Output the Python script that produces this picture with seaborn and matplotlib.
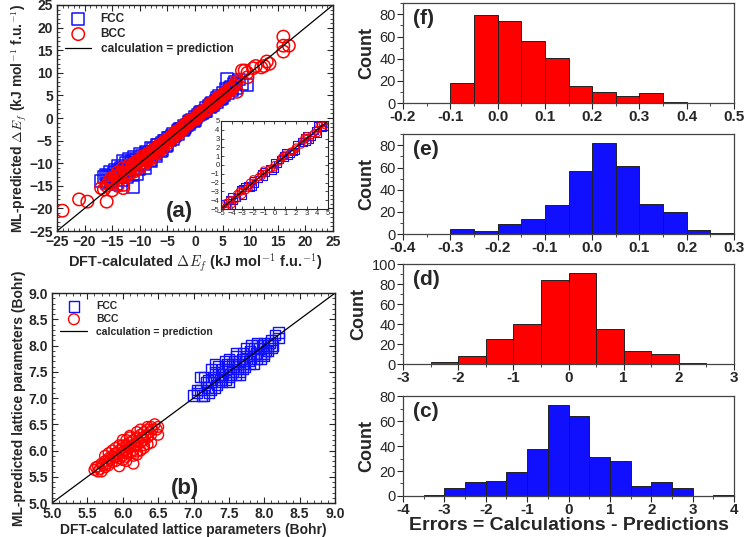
import matplotlib
matplotlib.use("Agg")
import matplotlib.pyplot as plt
import seaborn as sns
import numpy as np
from matplotlib.ticker import MultipleLocator, FormatStrFormatter

# ---- datos panel (a): energia de formacion (DFT vs ML) ----
fcc_a_dft = [-17, -16.5, -16, -16.2, -15.5, -15, -14.5, -14, -14, -13.5, -13, -13, -12.5, -12, -12,
             -11.5, -11, -11, -11.2, -10.5, -10, -10, -9.5, -9, -9, -8.5, -8, -8, -7.5, -7, -7,
             -6.5, -6, -6, -5.5, -5, -5, -4.5, -4, -4, -3.5, -3, -3, -2.5, -2, -2, -1.5, -1, -1,
             -0.5, 0, 0, 0.5, 1, 1, 1.5, 2, 2, 2.5, 3, 3, 3.5, 4, 4, 4.5, 5, 5, 5.5, 5.8, 6,
             6.5, 7, 7.5, 8, 9.4, 8.5, -15, -13.5, -4.8, -3.8, -2.8, -1.8, -0.8, 0.3, 1.3, 2.7, 3.8, 4.7,
             -15.8, -15.2, -14.7, -14.2, -13.7, -13.2, -12.7, -12.2, -11.7, -11.2, -10.7, -10.2, -9.7,
             -9.2, -8.7, -8.2, -7.7, -7.2, -6.7, -6.2, -5.7, -5.2, -4.2, -3.2, -2.2, -1.2, -0.2, 0.8,
             1.8, 2.8, 3.3, 4.3, 5.3, 6.3, 6.8, 7.3]
fcc_a_ml = [-14, -13, -14.5, -12.5, -12, -13, -11.5, -12.5, -10.5, -11, -9.5, -12, -10, -9, -11.5,
            -9.5, -8.5, -10.5, -15.3, -12.5, -8, -10, -9, -7.5, -11, -8, -6.5, -9.5, -7.5, -6, -8.5,
            -6.5, -5.5, -7.2, -5, -4.3, -6, -4.8, -3.5, -4.6, -3.7, -2.6, -3.5, -2.3, -1.7, -2.5, -1.6, -0.7, -1.3,
            -0.4, 0.3, -0.4, 0.6, 0.8, 1.4, 1.3, 2.3, 1.6, 2.7, 3.4, 2.6, 3.2, 4.5, 3.5, 4.2, 5.6, 4.4, 6.5, 8.6, 5.5,
            6.8, 7.5, 6.5, 8.5, 7.3, 7.5, -14, -13, -4.4, -4.1, -2.4, -2.1, -0.9, 0.1, 1.0, 2.5, 3.9, 4.3,
            -12.8, -14.2, -12.1, -14.6, -11.5, -13.8, -11.0, -13.0, -10.0, -12.4, -9.2, -11.4, -8.3,
            -10.3, -7.6, -9.3, -6.9, -8.1, -6.0, -7.4, -5.0, -6.3, -3.9, -2.8, -2.6, -0.9, -0.6, 1.1,
            1.5, 3.2, 2.9, 4.8, 5.0, 6.7, 6.1, 7.9]

bcc_a_dft = [-24, -21, -19.5, -16, -17, -16.5, -16, -15, -15.5, -14, -13, -13, -14.5, -14, -13.5, -13,
             -12.5, -12, -12, -11.5, -11, -11, -10.5, -10, -10, -9.5, -9, -9, -8.5, -8, -8, -7.5, -7,
             -7, -6.5, -6, -6, -5.5, -5, -5, -4.5, -4, -4, -3.5, -3, -3, -2.5, -2, -2, -1.5, -1, -1,
             -0.5, 0, 0, 0.5, 1, 1, 1.5, 2, 2, 2.5, 3, 3, 3.5, 4, 4, 4.5, 5, 5.5, 6, 6.5, 7, 7.6,
             7.5, 8.5, 9, 9.5, 9.5, 10.5, 11, 12, 12.5, 13, 13.5, 16, 16, 16, 17,
             -4.6, -4.2, -3.6, -3.2, -2.7, -2.3, -1.2, 0.7, 1.7, 2.8, 3.2, 4.2,
             -15.7, -15.2, -14.8, -14.3, -13.8, -13.3, -12.8, -12.3, -11.8, -11.3, -10.8, -10.3, -9.8,
             -9.3, -8.8, -8.3, -7.8, -7.3, -6.8, -6.3, -5.8, -5.3, -4.3, -3.3, -2.3, -1.3, -0.3, 0.7,
             1.7, 2.7, 3.7, 4.7, 5.2, 5.7, 6.2, 6.7, 7.2]
bcc_a_ml = [-20.5, -18, -18.5, -18.5, -15.5, -15.8, -15, -16, -14, -15, -15.5, -14.8, -13, -12, -12.5, -11,
            -12, -10.5, -12.5, -11, -10, -11.8, -9.5, -9.5, -11, -8.5, -9, -10, -7.8, -8, -9, -7, -7,
            -7.8, -6, -6, -6.8, -5.4, -5, -5.6, -4.3, -4, -4.5, -3.3, -3, -3.4, -2.6, -2, -1.6, -1.4, -1, -0.6,
            -0.5, 0, -0.3, 0.4, 1, 1.2, 1.5, 2, 1.8, 2.3, 3, 3.3, 3.4, 4, 3.6, 4.7, 5, 5.3, 6, 6.2, 7, 5.8,
            8, 10.5, 10.5, 10, 9, 11, 11.5, 11.2, 11.5, 12.5, 12, 18, 16, 14.7, 16,
            -4.9, -4.0, -3.9, -2.9, -2.9, -2.0, -1.3, 0.9, 1.5, 3.1, 2.8, 4.5,
            -14.5, -13.3, -14.2, -12.8, -13.6, -12.0, -12.8, -11.2, -12.2, -10.6, -11.3, -9.8, -10.5,
            -8.8, -9.5, -8.0, -8.6, -6.8, -7.5, -6.0, -6.4, -5.0, -4.5, -3.1, -2.5, -1.1, -0.4, 0.8,
            1.6, 2.8, 3.6, 4.5, 5.4, 5.5, 6.4, 6.5, 7.3]

# ---- datos panel (b): parametros de red (Bohr) ----
fcc_b_dft = [7.0, 7.05, 7.1, 7.15, 7.2, 7.2, 7.25, 7.3, 7.3, 7.35, 7.4, 7.4, 7.45, 7.5, 7.5, 7.5, 7.55,
             7.6, 7.6, 7.6, 7.65, 7.7, 7.7, 7.7, 7.75, 7.8, 7.8, 7.8, 7.85, 7.9, 7.9, 7.95, 8.0, 8.0, 8.0,
             8.05, 8.1, 8.1, 8.15, 8.2, 8.2, 8.0, 7.35, 7.45, 7.55, 7.65, 7.25, 7.15, 7.4, 7.85, 7.1,
             7.05, 7.12, 7.18, 7.22, 7.28, 7.33, 7.38, 7.42, 7.48, 7.52, 7.58, 7.62, 7.68, 7.72, 7.78,
             7.82, 7.88, 7.92, 7.98, 8.02, 8.08, 8.12, 7.3, 7.45, 7.6, 7.75, 7.9, 8.05,
             7.25, 7.5, 7.65, 7.85, 7.95]
fcc_b_ml = [7.05, 7.1, 7.15, 7.4, 7.2, 7.35, 7.3, 7.5, 7.2, 7.45, 7.55, 7.3, 7.6, 7.75, 7.4, 7.55, 7.5,
            7.8, 7.6, 7.45, 7.7, 7.85, 7.55, 7.65, 7.8, 7.9, 7.65, 7.75, 7.95, 8.0, 7.75, 7.85, 8.05, 7.85, 7.95,
            8.0, 8.1, 7.95, 8.2, 8.25, 8.15, 7.8, 7.6, 7.35, 7.65, 7.5, 7.15, 7.05, 7.4, 7.8, 7.4,
            7.15, 7.05, 7.3, 7.1, 7.4, 7.25, 7.35, 7.45, 7.65, 7.45, 7.7, 7.55, 7.75, 7.6, 7.7,
            8.0, 7.85, 7.95, 8.0, 7.9, 8.05, 8.0, 7.65, 7.7, 7.85, 7.95, 8.05, 7.9,
            7.55, 7.3, 7.45, 7.65, 7.75]

bcc_b_dft = [5.6, 5.65, 5.7, 5.7, 5.75, 5.75, 5.8, 5.8, 5.85, 5.85, 5.9, 5.9, 5.95, 5.95, 6.0, 6.0, 6.0,
             6.05, 6.05, 6.1, 6.1, 6.1, 6.15, 6.15, 6.2, 6.2, 6.2, 6.25, 6.25, 6.3, 6.3, 6.3, 6.35, 6.35,
             6.4, 6.4, 6.45, 6.5, 6.5, 6.15, 5.95, 6.05, 5.65, 6.25, 6.4, 5.85, 6.0, 6.1,
             5.62, 5.68, 5.72, 5.78, 5.82, 5.88, 5.92, 5.98, 6.02, 6.08, 6.12, 6.18, 6.22, 6.28, 6.32,
             6.38, 6.42, 6.48, 5.75, 5.9, 6.05, 6.2, 6.35, 6.0, 6.15, 6.3,
             5.8, 5.95, 6.1, 6.25, 6.05, 6.2, 6.35]
bcc_b_ml = [5.63, 5.7, 5.6, 5.75, 5.8, 5.68, 5.85, 5.72, 5.9, 5.78, 5.95, 5.8, 6.0, 5.85, 6.05, 5.9, 6.1,
            6.1, 5.95, 6.15, 5.95, 6.05, 6.2, 6.0, 6.25, 6.1, 5.98, 6.3, 6.15, 6.35, 6.2, 6.05, 6.4, 6.25,
            6.45, 6.3, 6.5, 6.3, 6.45, 5.75, 5.7, 5.8, 5.6, 6.0, 6.15, 6.0, 6.2, 6.25,
            5.68, 5.65, 5.72, 5.75, 5.82, 5.88, 5.88, 5.95, 6.0, 6.05, 6.1, 6.08, 6.18, 6.25, 6.28,
            6.35, 6.4, 6.4, 5.9, 6.05, 6.2, 6.35, 6.45, 5.82, 5.9, 6.1,
            5.95, 6.1, 6.28, 6.4, 5.88, 5.92, 6.12]

# linea calculo = prediccion
diag_a = [-25, 25]
diag_b = [5.0, 9.0]

# ---- histogramas de errores (bordes izquierdos de bins y cuentas) ----
f_width = 0.05
f_left = [-0.1, -0.05, 0.0, 0.05, 0.1, 0.15, 0.2, 0.25, 0.3, 0.35]
f_counts = [18, 79, 74, 56, 41, 15, 10, 6, 9, 1]

e_width = 0.05
e_left = [-0.3, -0.25, -0.2, -0.15, -0.1, -0.05, 0.0, 0.05, 0.1, 0.15, 0.2, 0.25]
e_counts = [5, 3, 9, 14, 26, 57, 82, 61, 27, 20, 4, 1]

d_width = 0.5
d_left = [-2.5, -2.0, -1.5, -1.0, -0.5, 0.0, 0.5, 1.0, 1.5, 2.0]
d_counts = [2, 8, 25, 40, 84, 91, 35, 13, 10, 1]

c_width = 0.5
c_left = [-3.5, -3.0, -2.5, -2.0, -1.5, -1.0, -0.5, 0.0, 0.5, 1.0, 1.5, 2.0, 2.5, 3.0, 3.5]
c_counts = [1, 6, 11, 12, 19, 38, 73, 64, 31, 28, 8, 11, 6, 0, 1]

BLUE = "#1010ff"
RED = "#ff0000"

sns.set_style("ticks")
plt.rcParams["font.family"] = ["Liberation Sans", "DejaVu Sans"]
plt.rcParams["mathtext.fontset"] = "cm"
plt.rcParams["font.weight"] = "bold"

fig = plt.figure(figsize=(7.45, 5.37), dpi=100)


def style_scatter_axes(ax, major, minor, size):
    ax.xaxis.set_major_locator(MultipleLocator(major))
    ax.yaxis.set_major_locator(MultipleLocator(major))
    ax.xaxis.set_minor_locator(MultipleLocator(minor))
    ax.yaxis.set_minor_locator(MultipleLocator(minor))
    ax.tick_params(which="both", direction="in", top=True, right=True, labelsize=size, pad=3)
    ax.tick_params(which="major", length=4, width=0.8)
    ax.tick_params(which="minor", length=2, width=0.6)
    for lab in ax.get_xticklabels() + ax.get_yticklabels():
        lab.set_fontweight("bold")
    for sp in ax.spines.values():
        sp.set_linewidth(1.0)
        sp.set_color("#222222")


# ---- panel (a) ----
ax_a = fig.add_axes([0.0765, 0.5698, 0.3705, 0.4209])
sns.scatterplot(x=fcc_a_dft, y=fcc_a_ml, ax=ax_a, marker="s", s=70, facecolor="none",
                edgecolor=BLUE, linewidth=1.1, label="FCC")
sns.scatterplot(x=bcc_a_dft, y=bcc_a_ml, ax=ax_a, marker="o", s=80, facecolor="none",
                edgecolor=RED, linewidth=1.1, label="BCC")
sns.lineplot(x=diag_a, y=diag_a, ax=ax_a, color="black", linewidth=0.9,
             label="calculation = prediction")
ax_a.set_xlim(-25, 25)
ax_a.set_ylim(-25, 25)
style_scatter_axes(ax_a, 5, 1, 10)
ax_a.set_xlabel(r"DFT-calculated $\Delta E_f$ (kJ mol$^{-1}$ f.u.$^{-1}$)", fontsize=10.5,
                fontweight="bold", labelpad=2)
ax_a.set_ylabel(r"ML-predicted $\Delta E_f$ (kJ mol$^{-1}$ f.u.$^{-1}$)", fontsize=10,
                fontweight="bold", labelpad=0)
ax_a.legend(loc="upper left", frameon=False, handlelength=2.2,
            borderaxespad=0.3, labelspacing=0.25, prop={"weight": "bold", "size": 8.5})
ax_a.text(0.445, 0.085, "(a)", transform=ax_a.transAxes, fontsize=16, fontweight="bold",
          ha="center", va="center")

# inset de (a)
ax_in = fig.add_axes([0.2966, 0.6108, 0.1436, 0.1639])
sns.scatterplot(x=fcc_a_dft, y=fcc_a_ml, ax=ax_in, marker="s", s=22, facecolor="none",
                edgecolor=BLUE, linewidth=0.8, legend=False)
sns.scatterplot(x=bcc_a_dft, y=bcc_a_ml, ax=ax_in, marker="o", s=24, facecolor="none",
                edgecolor=RED, linewidth=0.8, legend=False)
sns.lineplot(x=diag_a, y=diag_a, ax=ax_in, color="black", linewidth=0.8)
ax_in.set_xlim(-5, 5)
ax_in.set_ylim(-5, 5)
ax_in.xaxis.set_major_locator(MultipleLocator(1))
ax_in.yaxis.set_major_locator(MultipleLocator(1))
ax_in.tick_params(which="both", direction="in", top=True, right=True, labelsize=5.5,
                  length=2.5, width=0.6, pad=1)
for lab in ax_in.get_xticklabels() + ax_in.get_yticklabels():
    lab.set_fontweight("normal")
ax_in.set_xlabel("")
ax_in.set_ylabel("")
for sp in ax_in.spines.values():
    sp.set_linewidth(0.8)

# ---- panel (b) ----
ax_b = fig.add_axes([0.0698, 0.0633, 0.380, 0.391])
sns.scatterplot(x=fcc_b_dft, y=fcc_b_ml, ax=ax_b, marker="s", s=55, facecolor="none",
                edgecolor=BLUE, linewidth=1.0, label="FCC")
sns.scatterplot(x=bcc_b_dft, y=bcc_b_ml, ax=ax_b, marker="o", s=60, facecolor="none",
                edgecolor=RED, linewidth=1.0, label="BCC")
sns.lineplot(x=diag_b, y=diag_b, ax=ax_b, color="black", linewidth=0.9,
             label="calculation = prediction")
ax_b.set_xlim(5.0, 9.0)
ax_b.set_ylim(5.0, 9.0)
style_scatter_axes(ax_b, 0.5, 0.1, 10)
ax_b.xaxis.set_major_formatter(FormatStrFormatter("%.1f"))
ax_b.yaxis.set_major_formatter(FormatStrFormatter("%.1f"))
ax_b.set_xlabel("DFT-calculated lattice parameters (Bohr)", fontsize=10, fontweight="bold",
                labelpad=1)
ax_b.set_ylabel("ML-predicted lattice parameters (Bohr)", fontsize=10, fontweight="bold",
                labelpad=2)
ax_b.legend(loc="upper left", frameon=False, handlelength=2.6, borderaxespad=0.4,
            labelspacing=0.25, prop={"weight": "bold", "size": 7.5})
ax_b.text(0.47, 0.07, "(b)", transform=ax_b.transAxes, fontsize=16, fontweight="bold",
          ha="center", va="center")

# ---- histogramas ----
hist_specs = [
    ("(f)", f_left, f_counts, f_width, RED, (-0.2, 0.5), 0.1, (0, 90), 20, 0.808),
    ("(e)", e_left, e_counts, e_width, BLUE, (-0.4, 0.3), 0.1, (0, 90), 20, 0.564),
    ("(d)", d_left, d_counts, d_width, RED, (-3, 3), 1, (0, 100), 20, 0.322),
    ("(c)", c_left, c_counts, c_width, BLUE, (-4, 4), 1, (0, 80), 20, 0.0764),
]

for tag, left, counts, width, col, xlim, xmaj, ylim, ymaj, bottom in hist_specs:
    ax = fig.add_axes([0.541, bottom, 0.4443, 0.186])
    centers = [l + width / 2 for l in left]
    sns.histplot(x=centers, weights=counts, binwidth=width,
                 binrange=(left[0], left[-1] + width), ax=ax, color=col, alpha=1,
                 edgecolor="#222222", linewidth=0.7)
    ax.set_xlim(*xlim)
    ax.set_ylim(*ylim)
    ax.xaxis.set_major_locator(MultipleLocator(xmaj))
    ax.xaxis.set_minor_locator(MultipleLocator(xmaj / 2))
    ax.yaxis.set_major_locator(MultipleLocator(ymaj))
    ax.yaxis.set_minor_locator(MultipleLocator(ymaj / 2))
    if xmaj < 1:
        ax.xaxis.set_major_formatter(FormatStrFormatter("%.1f"))
    else:
        ax.xaxis.set_major_formatter(FormatStrFormatter("%d"))
    ax.tick_params(which="both", direction="out", top=False, right=False, pad=1)
    ax.tick_params(which="major", length=4, width=0.8)
    ax.tick_params(which="minor", length=2, width=0.6)
    ax.tick_params(axis="x", labelsize=11)
    ax.tick_params(axis="y", labelsize=10.5)
    for lab in ax.get_xticklabels():
        lab.set_fontweight("bold")
    for lab in ax.get_yticklabels():
        lab.set_fontweight("normal")
    for sp in ax.spines.values():
        sp.set_visible(True)
        sp.set_color("#444444")
        sp.set_linewidth(0.9)
    ax.set_ylabel("Count", fontsize=13, fontweight="bold", labelpad=3)
    ax.set_xlabel("")
    ax.text(0.03, 0.85, tag, transform=ax.transAxes, fontsize=15, fontweight="bold",
            ha="left", va="center")
    if tag == "(c)":
        ax.set_xlabel("Errors = Calculations - Predictions", fontsize=14, fontweight="bold",
                      labelpad=0)

fig.savefig("out.png", dpi=100)
